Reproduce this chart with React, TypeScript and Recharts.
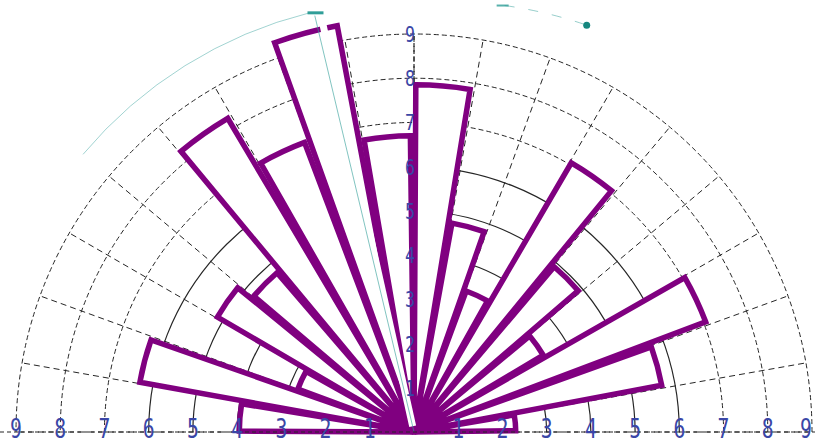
import React from 'react';
import { RadialBarChart, RadialBar, PolarAngleAxis, PolarRadiusAxis } from 'recharts';

// 18 sectors of 10 degrees, counted from the right (0°) round to the left (180°)
const bearings = ['0°', '10°', '20°', '30°', '40°', '50°', '60°', '70°', '80°', '90°', '100°', '110°', '120°', '130°', '140°', '150°', '160°', '170°'];
const lengths = [2.3, 5.7, 7.05, 3.4, 4.9, 7.05, 3.4, 4.8, 7.85, 6.7, 9.35, 7.0, 8.25, 4.75, 5.15, 2.8, 6.3, 3.95];
const ringTicks = [1, 2, 3, 4, 5, 6, 7, 8, 9];
const spokeAngles = [0, 10, 20, 30, 40, 50, 60, 70, 80, 90, 100, 110, 120, 130, 140, 150, 160, 170, 180];

const data = bearings.map((dir, i) => ({ dir, len: lengths[i] }));

const W = 815;
const H = 444;
const CX = 414;
const CY = 432;
const R = 398;
const MAX = 9;

const PURPLE = '#800080';
const INK = '#262626';
const BLUE = '#3a46a6';
const TEAL = '#2f9e98';

const rad = (v: number) => (v / MAX) * R;
const pt = (r: number, deg: number) => {
    const a = (deg * Math.PI) / 180;
    return [CX + r * Math.cos(a), CY - r * Math.sin(a)];
};

const Digit = ({ x, y, size, children }: any) => (
    <text
        transform={`translate(${x} ${y}) scale(0.76 1)`}
        textAnchor="middle"
        fontSize={size}
        fontFamily="DejaVu Sans Mono, monospace"
        fill={BLUE}
    >
        {children}
    </text>
);

const Grid = () => (
    <svg width={W} height={H} style={{ position: 'absolute', left: 0, top: 0 }}>
        {spokeAngles.map((a) => {
            const [x, y] = pt(R, a);
            return <line key={a} x1={CX} y1={CY} x2={x} y2={y} stroke={INK} strokeWidth={1} strokeDasharray="6 4" />;
        })}
        {ringTicks.map((t) => {
            const r = rad(t);
            return (
                <path
                    key={t}
                    d={`M ${CX + r} ${CY} A ${r} ${r} 0 0 0 ${CX - r} ${CY}`}
                    fill="none"
                    stroke={INK}
                    strokeWidth={t > 6 ? 1 : 1.2}
                    strokeDasharray={t > 6 ? '5 3' : undefined}
                />
            );
        })}
        <line x1={CX} y1={CY} x2={CX} y2={CY - R} stroke={INK} strokeWidth={1.2} strokeDasharray="4 3" />
    </svg>
);

const Overlay = () => {
    const [sx1, sy1] = pt(6, 102.6);
    const [sx2, sy2] = pt(430, 102.6);
    const [tx2, ty2] = pt(428, 103.4);
    const [ax1, ay1] = pt(432, 140);
    const [ax2, ay2] = pt(432, 104);
    const [bx1, by1] = pt(436, 78);
    const [bx2, by2] = pt(442, 67);
    return (
        <svg width={W} height={H} style={{ position: 'absolute', left: 0, top: 0, pointerEvents: 'none' }}>
            <line x1={sx1} y1={sy1} x2={sx2} y2={sy2} stroke="#ffffff" strokeWidth={7} />
            <line x1={CX} y1={CY} x2={tx2} y2={ty2} stroke={TEAL} strokeWidth={1} opacity={0.6} />
            <path d={`M ${ax1} ${ay1} A 432 432 0 0 1 ${ax2} ${ay2}`} fill="none" stroke={TEAL} strokeWidth={1} opacity={0.45} />
            <line x1={ax2 - 2} y1={ay2} x2={ax2 + 14} y2={ay2} stroke={TEAL} strokeWidth={3} />
            <path d={`M ${bx1} ${by1} A 440 440 0 0 1 ${bx2} ${by2}`} fill="none" stroke={TEAL} strokeWidth={1} strokeDasharray="10 14" opacity={0.5} />
            <line x1={bx1 - 8} y1={by1} x2={bx1 + 4} y2={by1} stroke={TEAL} strokeWidth={2} opacity={0.8} />
            <circle cx={bx2} cy={by2} r={3.5} fill="#16877f" />
            <line x1={0} y1={CY} x2={W} y2={CY} stroke={INK} strokeWidth={1.2} strokeDasharray="4 3" />
            {ringTicks.map((t) => (
                <g key={t}>
                    <Digit x={CX - rad(t)} y={438} size={26}>{t}</Digit>
                    <Digit x={Math.min(CX + rad(t), 806)} y={438} size={26}>{t}</Digit>
                    <Digit x={CX - 4} y={CY - rad(t) + 8} size={22}>{t}</Digit>
                </g>
            ))}
        </svg>
    );
};

const App: React.FC = () => {
    return (
        <div style={{ position: 'absolute', left: 0, top: 0, width: W, height: H, background: '#ffffff' }}>
            <Grid />
            <div style={{ position: 'absolute', left: 0, top: 0 }}>
                <RadialBarChart
                    width={W}
                    height={H}
                    data={data}
                    layout="centric"
                    cx={CX}
                    cy={CY}
                    innerRadius={0}
                    outerRadius={R}
                    startAngle={10}
                    endAngle={190}
                    barCategoryGap="7%"
                    margin={{ top: 0, right: 0, bottom: 0, left: 0 }}
                >
                    <PolarAngleAxis type="category" dataKey="dir" tick={false} axisLine={false} tickLine={false} />
                    <PolarRadiusAxis type="number" domain={[0, MAX]} allowDataOverflow tick={false} axisLine={false} />
                    <RadialBar dataKey="len" fill="#ffffff" stroke={PURPLE} strokeWidth={5.5} isAnimationActive={false} />
                </RadialBarChart>
            </div>
            <Overlay />
        </div>
    );
};

export default App;
